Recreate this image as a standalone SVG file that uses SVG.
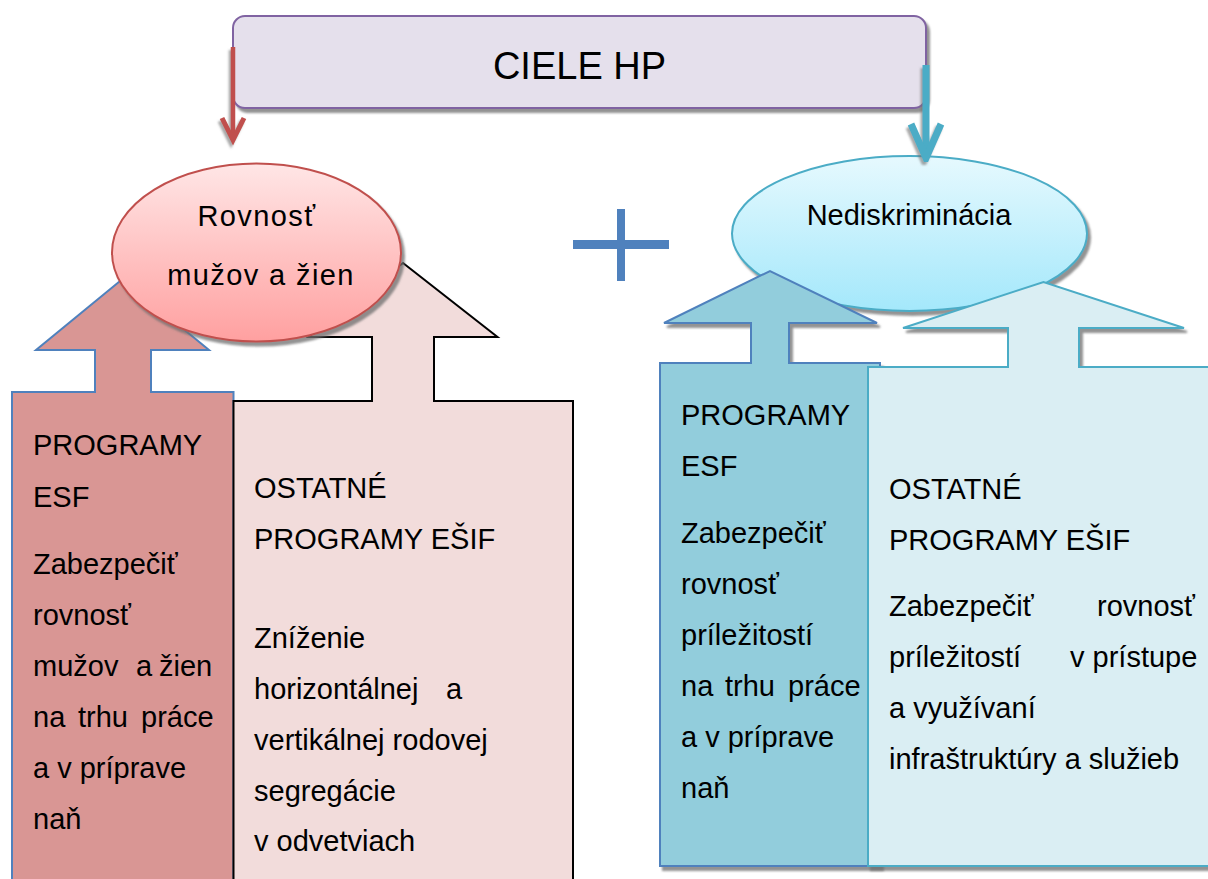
<svg xmlns="http://www.w3.org/2000/svg" width="1208" height="879" viewBox="0 0 1208 879">
<defs>
<style>
.t{font-family:"Liberation Sans",Arial,sans-serif;font-size:29px;fill:#000}
.title{font-size:38px}
.wide{letter-spacing:1.4px}
.mid{text-anchor:middle}
.end{text-anchor:end}
.shadow{filter:url(#sh)}
.lshadow{filter:url(#shL)}
</style>
<filter id="sh" x="-10%" y="-10%" width="130%" height="130%">
<feDropShadow dx="3" dy="4" stdDeviation="1" flood-color="#6e6e6e" flood-opacity="0.75"/>
</filter>
<filter id="shL" filterUnits="userSpaceOnUse" x="0" y="0" width="1208" height="879">
<feDropShadow dx="-2" dy="3" stdDeviation="1" flood-color="#6e6e6e" flood-opacity="0.6"/>
</filter>
<linearGradient id="gRed" x1="0" y1="0" x2="0" y2="1">
<stop offset="0" stop-color="#FFE6E6"/>
<stop offset="1" stop-color="#FFA0A0"/>
</linearGradient>
<linearGradient id="gBlue" x1="0" y1="0" x2="0" y2="1">
<stop offset="0" stop-color="#E6F9FE"/>
<stop offset="1" stop-color="#A4E8FB"/>
</linearGradient>
<marker id="vRed" markerUnits="userSpaceOnUse" viewBox="-6 -16 36 32" markerWidth="36" markerHeight="32" refX="22" refY="0" orient="auto">
<path d="M0,-11 L22,0 L0,11" fill="none" stroke="#C0504D" stroke-width="5"/>
</marker>
<marker id="vBlue" markerUnits="userSpaceOnUse" viewBox="-8 -20 46 40" markerWidth="46" markerHeight="40" refX="34" refY="0" orient="auto">
<path d="M0,-15 L34,0 L0,15" fill="none" stroke="#4BACC6" stroke-width="7"/>
</marker>
</defs>
<rect width="1208" height="879" fill="#ffffff"/>

<g id="ciele-hp">
<rect class="shadow" x="233" y="16" width="693" height="92" rx="12" ry="12" fill="#E5E0EC" stroke="#8064A2" stroke-width="2"/>
<text class="t title mid" x="579.5" y="79">CIELE HP</text>
</g>

<g id="programy-esf-left">
<polygon points="12,392 95,392 95,350 36,350 122.5,279 209,350 151,350 151,392 233.5,392 233.5,890 12,890" fill="#D99694" stroke="#4F81BD" stroke-width="2"/>
<text class="t" x="33" y="455">PROGRAMY</text>
<text class="t" x="33" y="507">ESF</text>
<text class="t" x="33" y="574">Zabezpečiť</text>
<text class="t" x="33" y="625">rovnosť</text>
<text class="t" y="676"><tspan x="33">mužov</tspan><tspan x="136">a</tspan><tspan x="159">žien</tspan></text>
<text class="t" y="727"><tspan x="33">na</tspan><tspan x="78">trhu</tspan><tspan x="141">práce</tspan></text>
<text class="t" x="33" y="778">a v príprave</text>
<text class="t" x="33" y="829">naň</text>
</g>

<g id="ostatne-left">
<polygon points="233.5,401 372,401 372,337 308.5,337 403,263 497.5,337 434,337 434,401 573,401 573,890 233.5,890" fill="#F2DCDB" stroke="#000000" stroke-width="2"/>
<text class="t" x="254" y="498">OSTATNÉ</text>
<text class="t" x="254" y="549">PROGRAMY EŠIF</text>
<text class="t" x="254" y="648">Zníženie</text>
<text class="t" y="699"><tspan x="254">horizontálnej</tspan><tspan x="446">a</tspan></text>
<text class="t" x="254" y="750">vertikálnej rodovej</text>
<text class="t" x="254" y="801">segregácie</text>
<text class="t" x="254" y="851">v odvetviach</text>
</g>

<g id="rovnost">
<ellipse class="shadow" cx="256.5" cy="252.5" rx="144.5" ry="89" fill="url(#gRed)" stroke="#C0504D" stroke-width="2"/>
<text class="t wide mid" x="257" y="226">Rovnosť</text>
<text class="t wide mid" x="261" y="285">mužov a žien</text>
</g>

<g id="plus">
<rect x="573" y="240" width="96" height="9" fill="#4F81BD"/>
<rect x="617" y="209" width="8" height="72" fill="#4F81BD"/>
</g>

<g id="nediskriminacia">
<ellipse class="shadow" cx="909.5" cy="233.5" rx="177.5" ry="77.5" fill="url(#gBlue)" stroke="#4BACC6" stroke-width="2"/>
<text class="t mid" x="909" y="225">Nediskriminácia</text>
</g>

<g id="programy-esf-right">
<polygon class="shadow" points="660,363 751,363 751,323 664,323 770,271 877,323 789,323 789,363 880,363 880,866 660,866" fill="#92CDDC" stroke="#4F81BD" stroke-width="2"/>
<text class="t" x="681" y="425">PROGRAMY</text>
<text class="t" x="681" y="476">ESF</text>
<text class="t" x="681" y="543">Zabezpečiť</text>
<text class="t" x="681" y="594">rovnosť</text>
<text class="t" x="681" y="645">príležitostí</text>
<text class="t" y="696"><tspan x="681">na</tspan><tspan x="725">trhu</tspan><tspan x="788">práce</tspan></text>
<text class="t" x="681" y="747">a v príprave</text>
<text class="t" x="681" y="798">naň</text>
</g>

<g id="ostatne-right">
<polygon class="shadow" points="868,367 1008,367 1008,328 903,328 1043.5,282 1184,328 1079,328 1079,367 1215,367 1215,866 868,866" fill="#DAEEF3" stroke="#4BACC6" stroke-width="2"/>
<text class="t" x="889" y="499">OSTATNÉ</text>
<text class="t" x="889" y="550">PROGRAMY EŠIF</text>
<text class="t" y="616"><tspan x="889">Zabezpečiť</tspan><tspan class="end" x="1195">rovnosť</tspan></text>
<text class="t" y="667"><tspan x="889">príležitostí</tspan><tspan x="1070">v prístupe</tspan></text>
<text class="t" x="889" y="718">a využívaní</text>
<text class="t" x="889" y="769">infraštruktúry a služieb</text>
</g>

<g id="connectors">
<line class="lshadow" x1="233" y1="47" x2="233" y2="140" stroke="#C0504D" stroke-width="4.5" marker-end="url(#vRed)"/>
<line class="lshadow" x1="926" y1="65" x2="926" y2="158" stroke="#4BACC6" stroke-width="7" marker-end="url(#vBlue)"/>
</g>
</svg>
